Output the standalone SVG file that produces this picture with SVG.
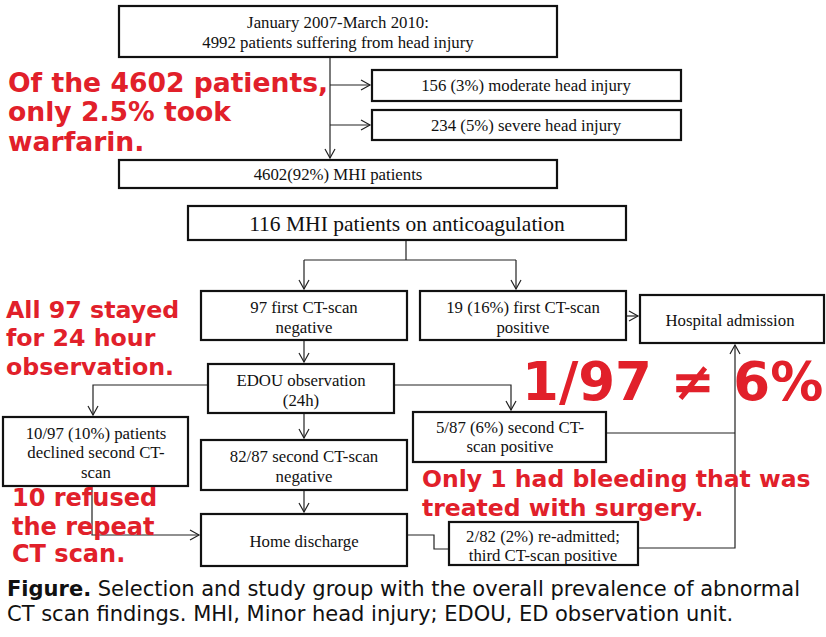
<svg xmlns="http://www.w3.org/2000/svg" width="826" height="637" viewBox="0 0 826 637">
<defs>
<marker id="a" markerWidth="12" markerHeight="12" refX="10" refY="6" orient="auto" markerUnits="userSpaceOnUse"><path d="M1,1 L10,6 L1,11" fill="none" stroke="#222" stroke-width="1.2"/></marker>
</defs>
<style>
.b{fill:#fff;stroke:#111;stroke-width:2.2}
.t{font-family:"Liberation Serif",serif;font-size:16.8px;fill:#111;text-anchor:middle}
.l{fill:none;stroke:#222;stroke-width:1.2}
.r{font-family:"DejaVu Sans",Verdana,sans-serif;font-weight:bold;fill:#e1202a}
.c{font-family:"DejaVu Sans",Verdana,sans-serif;font-size:21px;fill:#111}
</style>
<rect width="826" height="637" fill="#fff"/>
<g id="connectors">
<path class="l" d="M330,57 V158" marker-end="url(#a)"/>
<path class="l" d="M330,85 H370" marker-end="url(#a)"/>
<path class="l" d="M330,125 H370" marker-end="url(#a)"/>
<path class="l" d="M406,240 V260 M304,260 H516"/>
<path class="l" d="M304,260 V289" marker-end="url(#a)"/>
<path class="l" d="M516,260 V289" marker-end="url(#a)"/>
<path class="l" d="M626,316 H638" marker-end="url(#a)"/>
<path class="l" d="M304,340 V362" marker-end="url(#a)"/>
<path class="l" d="M208,385 H93 V415" marker-end="url(#a)"/>
<path class="l" d="M394,385 H511 V410" marker-end="url(#a)"/>
<path class="l" d="M304,413 V438" marker-end="url(#a)"/>
<path class="l" d="M304,490 V512" marker-end="url(#a)"/>
<path class="l" d="M92,486 V535 H199" marker-end="url(#a)"/>
<path class="l" d="M407,535 H434 V549 H449"/>
<path class="l" d="M606,433 H735 M638,548 H735 V345" marker-end="url(#a)"/>
</g>
<g id="n1"><rect class="b" x="119" y="6" width="438" height="51"/><text class="t" x="338" y="28">January 2007-March 2010:</text><text class="t" x="338" y="48">4992 patients suffering from head injury</text></g>
<g id="n2"><rect class="b" x="372" y="70" width="309" height="31"/><text class="t" x="526" y="91">156 (3%) moderate head injury</text></g>
<g id="n3"><rect class="b" x="372" y="110" width="309" height="30"/><text class="t" x="526" y="131">234 (5%) severe head injury</text></g>
<g id="n4"><rect class="b" x="119" y="160" width="438" height="28"/><text class="t" x="338" y="180">4602(92%) MHI patients</text></g>
<g id="n5"><rect class="b" x="188" y="206" width="438" height="34"/><text class="t" x="407" y="231" style="font-size:21.5px">116 MHI patients on anticoagulation</text></g>
<g id="n6"><rect class="b" x="201" y="291" width="206" height="49"/><text class="t" x="304" y="313">97 first CT-scan</text><text class="t" x="304" y="333">negative</text></g>
<g id="n7"><rect class="b" x="420" y="291" width="206" height="49"/><text class="t" x="523" y="313">19 (16%) first CT-scan</text><text class="t" x="523" y="333">positive</text></g>
<g id="n8"><rect class="b" x="640" y="295" width="184" height="48"/><text class="t" x="730" y="326">Hospital admission</text></g>
<g id="n9"><rect class="b" x="208" y="364" width="186" height="49"/><text class="t" x="301" y="386">EDOU observation</text><text class="t" x="301" y="406">(24h)</text></g>
<g id="n10"><rect class="b" x="3" y="417" width="185" height="69"/><text class="t" x="96" y="439">10/97 (10%) patients</text><text class="t" x="96" y="458">declined second CT-</text><text class="t" x="96" y="478">scan</text></g>
<g id="n11"><rect class="b" x="201" y="440" width="206" height="50"/><text class="t" x="304" y="462">82/87 second CT-scan</text><text class="t" x="304" y="482">negative</text></g>
<g id="n12"><rect class="b" x="413" y="412" width="193" height="50"/><text class="t" x="510" y="433">5/87 (6%) second CT-</text><text class="t" x="510" y="452">scan positive</text></g>
<g id="n13"><rect class="b" x="201" y="514" width="206" height="52"/><text class="t" x="304" y="547">Home discharge</text></g>
<g id="n14"><rect class="b" x="449" y="522" width="189" height="43"/><text class="t" x="543" y="542">2/82 (2%) re-admitted;</text><text class="t" x="543" y="561">third CT-scan positive</text></g>
<g id="notes">
<text class="r" x="8" y="92" font-size="26.6">Of the 4602 patients,</text>
<text class="r" x="8" y="121" font-size="26.6">only 2.5% took</text>
<text class="r" x="8" y="151" font-size="26.6">warfarin.</text>
<text class="r" x="6" y="318" font-size="23.7">All 97 stayed</text>
<text class="r" x="6" y="346" font-size="23.7">for 24 hour</text>
<text class="r" x="6" y="375" font-size="23.7">observation.</text>
<text class="r" x="522" y="400" font-size="53">1/97 ≠ 6%</text>
<text class="r" x="422" y="487" font-size="23.5">Only 1 had bleeding that was</text>
<text class="r" x="422" y="516" font-size="23.5">treated with surgery.</text>
<text class="r" x="12" y="506" font-size="24">10 refused</text>
<text class="r" x="12" y="535" font-size="24">the repeat</text>
<text class="r" x="12" y="562" font-size="24">CT scan.</text>
</g>
<text class="c" x="7" y="596"><tspan font-weight="bold">Figure.</tspan> Selection and study group with the overall prevalence of abnormal</text>
<text class="c" x="7" y="621">CT scan findings. MHI, Minor head injury; EDOU, ED observation unit.</text>
</svg>
